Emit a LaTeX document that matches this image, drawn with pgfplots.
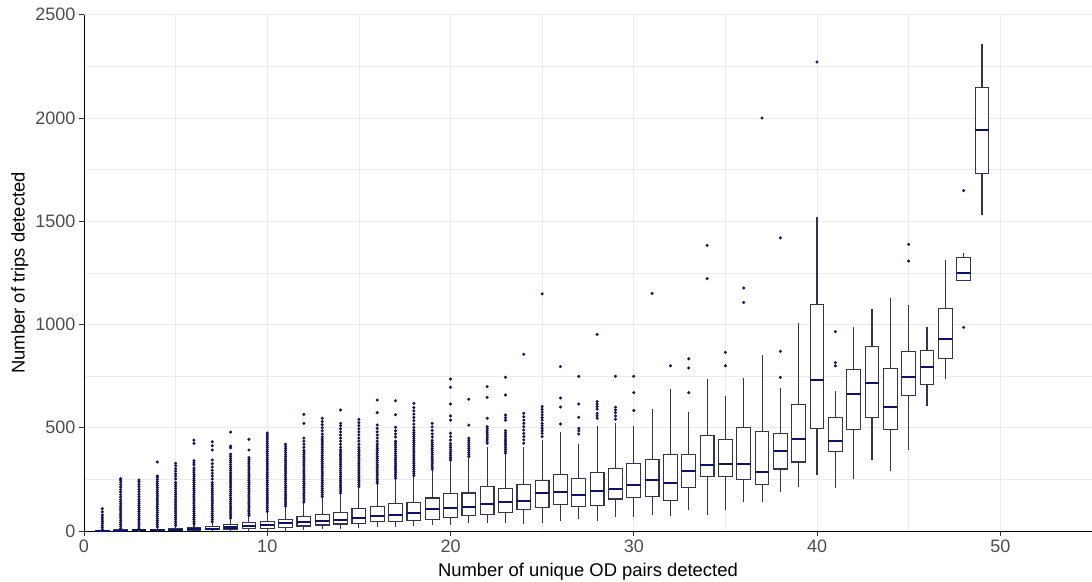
\documentclass[border=0pt]{standalone}
\usepackage{pgfplots}
\pgfplotsset{compat=1.18}
\usepgfplotslibrary{statistics}
\usepackage{fontspec}
\setmainfont{Liberation Sans}
\definecolor{gridc}{HTML}{EBEBEB}
\definecolor{boxc}{HTML}{34344F}
\definecolor{medc}{HTML}{10106E}
\definecolor{outc}{HTML}{14145A}
\definecolor{tickc}{HTML}{4D4D4D}
\newcommand{\bx}[6]{\addplot[boxplot prepared={draw position=#1, lower whisker=#2, lower quartile=#3, median=#4, upper quartile=#5, upper whisker=#6}] coordinates {};}
\begin{document}
\begin{tikzpicture}
\useasboundingbox (-84pt,-50pt) rectangle (1008pt,531pt);
\begin{axis}[
  at={(0pt,0pt)}, anchor=south west,
  width=1008pt, height=516.3pt, scale only axis,
  xmin=0, xmax=55, ymin=0, ymax=2500,
  axis x line*=bottom, axis y line*=left,
  axis line style={black, line width=0.9pt},
  xtick={0,10,...,50}, minor xtick={5,15,...,55},
  ytick={0,500,...,2500}, minor ytick={250,750,...,2250},
  grid=both,
  major grid style={gridc, line width=0.8pt},
  minor grid style={gridc, line width=0.5pt},
  tick align=outside, major tick length=5pt, minor tick length=0pt,
  tick style={color=black!80, line width=0.8pt},
  ticklabel style={font=\fontsize{18}{20}\selectfont, text=tickc},
  /pgf/number format/assume math mode=true,
  /pgf/number format/1000 sep={},
  xlabel={Number of unique OD pairs detected},
  ylabel={Number of trips detected},
  label style={font=\fontsize{18.4}{20}\selectfont, text=black},
  xlabel style={at={(axis description cs:0.5,-0.0883)}, anchor=base},
  ylabel style={at={(axis description cs:-0.0635,0.5)}, anchor=center},
  boxplot/draw direction=y,
  boxplot/box extend=0.75,
  boxplot/whisker extend=0,
  boxplot/every box/.style={draw=boxc, fill=white, line width=1.1pt},
  boxplot/every whisker/.style={draw=boxc, line width=1.1pt},
  boxplot/every median/.style={draw=medc, line width=2.1pt},
]
% outliers
\addplot[only marks, mark=*, mark size=1.35pt, color=outc, mark options={fill=outc, draw=outc}] coordinates {
(1,8)(1,18)(1,28)(1,38)(1,48)(1,58)(1,68)(1,78)(1,93)(1,108)
(2,12)(2,22)(2,32)(2,42)(2,52)(2,62)(2,72)(2,82)(2,92)(2,102)(2,112)(2,122)(2,132)(2,142)(2,152)(2,164)(2,176)(2,188)(2,200)(2,212)(2,224)(2,236)(2,246)(2,254)
(3,14)(3,24)(3,34)(3,44)(3,54)(3,64)(3,74)(3,84)(3,94)(3,104)(3,114)(3,124)(3,134)(3,144)(3,154)(3,166)(3,178)(3,190)(3,202)(3,214)(3,226)(3,238)(3,247)
(4,20)(4,30)(4,40)(4,50)(4,60)(4,70)(4,80)(4,90)(4,100)(4,110)(4,120)(4,130)(4,140)(4,150)(4,160)(4,170)(4,180)(4,190)(4,200)(4,210)(4,220)(4,230)(4,240)(4,250)(4,260)(4,266)(4,334)
(5,26)(5,36)(5,46)(5,56)(5,66)(5,76)(5,86)(5,96)(5,106)(5,116)(5,126)(5,136)(5,146)(5,156)(5,166)(5,176)(5,186)(5,196)(5,206)(5,216)(5,226)(5,236)(5,252)(5,264)(5,276)(5,290)(5,302)(5,316)(5,328)
(6,35)(6,45)(6,55)(6,65)(6,75)(6,85)(6,95)(6,105)(6,115)(6,125)(6,135)(6,145)(6,155)(6,165)(6,175)(6,185)(6,195)(6,205)(6,215)(6,225)(6,235)(6,245)(6,255)(6,265)(6,275)(6,285)(6,295)(6,305)(6,320)(6,330)(6,340)(6,425)(6,440)
(7,45)(7,55)(7,65)(7,75)(7,85)(7,95)(7,105)(7,115)(7,125)(7,135)(7,145)(7,155)(7,165)(7,175)(7,185)(7,195)(7,205)(7,215)(7,225)(7,235)(7,252)(7,266)(7,280)(7,294)(7,310)(7,326)(7,344)(7,392)(7,413)(7,432)
(8,62)(8,72)(8,82)(8,92)(8,102)(8,112)(8,122)(8,132)(8,142)(8,152)(8,162)(8,172)(8,182)(8,192)(8,202)(8,212)(8,222)(8,232)(8,242)(8,252)(8,262)(8,272)(8,282)(8,292)(8,302)(8,312)(8,322)(8,332)(8,342)(8,352)(8,362)(8,372)(8,403)(8,411)(8,479)
(9,75)(9,85)(9,95)(9,105)(9,115)(9,125)(9,135)(9,145)(9,155)(9,165)(9,175)(9,185)(9,195)(9,205)(9,215)(9,225)(9,235)(9,245)(9,255)(9,265)(9,275)(9,285)(9,295)(9,305)(9,315)(9,325)(9,335)(9,345)(9,355)(9,392)(9,444)
(10,95)(10,105)(10,115)(10,125)(10,135)(10,145)(10,155)(10,165)(10,175)(10,185)(10,195)(10,205)(10,215)(10,225)(10,235)(10,245)(10,255)(10,265)(10,275)(10,285)(10,295)(10,305)(10,315)(10,325)(10,335)(10,345)(10,355)(10,365)(10,375)(10,385)(10,395)(10,405)(10,415)(10,425)(10,435)(10,445)(10,455)(10,465)(10,475)
(11,120)(11,130)(11,140)(11,150)(11,160)(11,170)(11,180)(11,190)(11,200)(11,210)(11,220)(11,230)(11,240)(11,250)(11,260)(11,270)(11,280)(11,290)(11,300)(11,310)(11,320)(11,330)(11,340)(11,350)(11,360)(11,370)(11,380)(11,390)(11,400)(11,410)(11,420)
(12,140)(12,150)(12,160)(12,170)(12,180)(12,190)(12,200)(12,210)(12,220)(12,230)(12,240)(12,250)(12,260)(12,270)(12,280)(12,290)(12,300)(12,310)(12,320)(12,330)(12,340)(12,350)(12,360)(12,370)(12,380)(12,390)(12,405)(12,420)(12,435)(12,450)(12,521)(12,565)
(13,166)(13,176)(13,186)(13,196)(13,206)(13,216)(13,226)(13,236)(13,246)(13,256)(13,266)(13,276)(13,286)(13,296)(13,306)(13,316)(13,326)(13,336)(13,346)(13,356)(13,366)(13,376)(13,386)(13,396)(13,406)(13,416)(13,426)(13,436)(13,446)(13,456)(13,470)(13,485)(13,500)(13,515)(13,530)(13,546)
(14,183)(14,193)(14,203)(14,213)(14,223)(14,233)(14,243)(14,253)(14,263)(14,273)(14,283)(14,293)(14,303)(14,313)(14,323)(14,333)(14,343)(14,353)(14,363)(14,373)(14,383)(14,393)(14,405)(14,420)(14,435)(14,450)(14,465)(14,480)(14,495)(14,510)(14,521)(14,586)
(15,215)(15,225)(15,235)(15,245)(15,255)(15,265)(15,275)(15,285)(15,295)(15,305)(15,315)(15,325)(15,335)(15,345)(15,355)(15,365)(15,375)(15,385)(15,395)(15,405)(15,420)(15,435)(15,450)(15,465)(15,480)(15,495)(15,510)(15,525)(15,541)
(16,231)(16,241)(16,251)(16,261)(16,271)(16,281)(16,291)(16,301)(16,311)(16,321)(16,331)(16,341)(16,351)(16,361)(16,371)(16,381)(16,391)(16,401)(16,411)(16,421)(16,435)(16,450)(16,465)(16,480)(16,497)(16,513)(16,573)(16,634)
(17,255)(17,265)(17,275)(17,285)(17,295)(17,305)(17,315)(17,325)(17,335)(17,345)(17,355)(17,365)(17,375)(17,385)(17,395)(17,405)(17,415)(17,425)(17,435)(17,455)(17,470)(17,485)(17,502)(17,563)(17,631)
(18,268)(18,278)(18,288)(18,298)(18,308)(18,318)(18,328)(18,338)(18,348)(18,358)(18,368)(18,378)(18,388)(18,398)(18,408)(18,418)(18,428)(18,438)(18,448)(18,458)(18,468)(18,478)(18,488)(18,502)(18,518)(18,534)(18,550)(18,566)(18,582)(18,598)(18,618)
(19,299)(19,309)(19,319)(19,329)(19,339)(19,349)(19,359)(19,369)(19,379)(19,389)(19,399)(19,409)(19,419)(19,429)(19,439)(19,455)(19,470)(19,487)(19,504)(19,521)
(20,344)(20,354)(20,364)(20,374)(20,384)(20,394)(20,404)(20,414)(20,424)(20,441)(20,457)(20,473)(20,537)(20,557)(20,615)(20,696)(20,736)
(21,360)(21,370)(21,380)(21,390)(21,400)(21,410)(21,420)(21,430)(21,440)(21,450)(21,513)(21,638)
(22,425)(22,435)(22,445)(22,455)(22,465)(22,475)(22,485)(22,495)(22,505)(22,546)(22,647)(22,699)
(23,376)(23,386)(23,396)(23,406)(23,416)(23,426)(23,436)(23,446)(23,456)(23,466)(23,476)(23,486)(23,536)(23,549)(23,562)(23,659)(23,744)
(24,425)(24,441)(24,457)(24,473)(24,489)(24,505)(24,521)(24,537)(24,553)(24,570)(24,856)
(25,457)(25,473)(25,485)(25,497)(25,509)(25,521)(25,537)(25,549)(25,562)(25,576)(25,589)(25,602)(25,1148)
(26,518)(26,600)(26,644)(26,796)
(27,470)(27,485)(27,497)(27,551)(27,615)(27,749)
(28,546)(28,558)(28,570)(28,590)(28,602)(28,614)(28,626)(28,952)
(29,541)(29,557)(29,573)(29,586)(29,599)(29,749)
(30,583)(30,670)(30,749)
(31,1151)
(32,800)
(33,670)(33,789)(33,834)
(34,1222)(34,1383)
(35,800)(35,865)
(36,1107)(36,1177)
(37,2000)
(38,744)(38,870)(38,1419)
(40,2271)
(41,800)(41,815)(41,965)
(45,1307)(45,1388)
(48,986)(48,1648)
};
% boxes: position, lower whisker, Q1, median, Q3, upper whisker
\bx{1}{0}{0}{1}{3}{7}
\bx{2}{0}{1}{2}{5}{11}
\bx{3}{0}{1}{3}{6}{13}
\bx{4}{0}{2}{4}{9}{19}
\bx{5}{0}{3}{6}{12}{25}
\bx{6}{0}{4}{8}{16}{34}
\bx{7}{0}{6}{11}{21}{43}
\bx{8}{0}{9}{17}{30}{60}
\bx{9}{0}{13}{26}{40}{73}
\bx{10}{0}{13}{29}{45}{92}
\bx{11}{0}{16}{37}{57}{118}
\bx{12}{5}{24}{44}{69}{134}
\bx{13}{8}{29}{50}{81}{158}
\bx{14}{10}{34}{53}{90}{174}
\bx{15}{15}{37}{61}{110}{210}
\bx{16}{18}{44}{71}{118}{231}
\bx{17}{21}{48}{77}{134}{252}
\bx{18}{24}{53}{89}{137}{268}
\bx{19}{29}{57}{107}{160}{299}
\bx{20}{29}{66}{111}{181}{340}
\bx{21}{37}{74}{118}{184}{352}
\bx{22}{37}{81}{132}{215}{408}
\bx{23}{37}{89}{139}{205}{368}
\bx{24}{34}{102}{147}{224}{408}
\bx{25}{37}{113}{182}{244}{441}
\bx{26}{50}{129}{187}{274}{478}
\bx{27}{58}{118}{173}{253}{421}
\bx{28}{50}{123}{194}{284}{508}
\bx{29}{69}{155}{202}{304}{521}
\bx{30}{69}{163}{223}{326}{508}
\bx{31}{77}{168}{247}{345}{589}
\bx{32}{73}{149}{234}{371}{686}
\bx{33}{102}{210}{292}{371}{578}
\bx{34}{77}{265}{318}{461}{737}
\bx{35}{102}{265}{323}{445}{654}
\bx{36}{142}{250}{323}{500}{743}
\bx{37}{142}{223}{287}{481}{851}
\bx{38}{190}{300}{389}{470}{694}
\bx{39}{215}{334}{444}{612}{1009}
\bx{40}{271}{495}{730}{1098}{1522}
\bx{41}{210}{384}{434}{551}{676}
\bx{42}{253}{491}{665}{781}{989}
\bx{43}{345}{551}{715}{894}{1075}
\bx{44}{292}{492}{599}{788}{1127}
\bx{45}{392}{655}{744}{868}{1094}
\bx{46}{607}{710}{794}{872}{989}
\bx{47}{734}{836}{930}{1078}{1312}
\bx{48}{1215}{1215}{1248}{1325}{1345}
\bx{49}{1530}{1732}{1942}{2148}{2358}
\end{axis}
\end{tikzpicture}
\end{document}
